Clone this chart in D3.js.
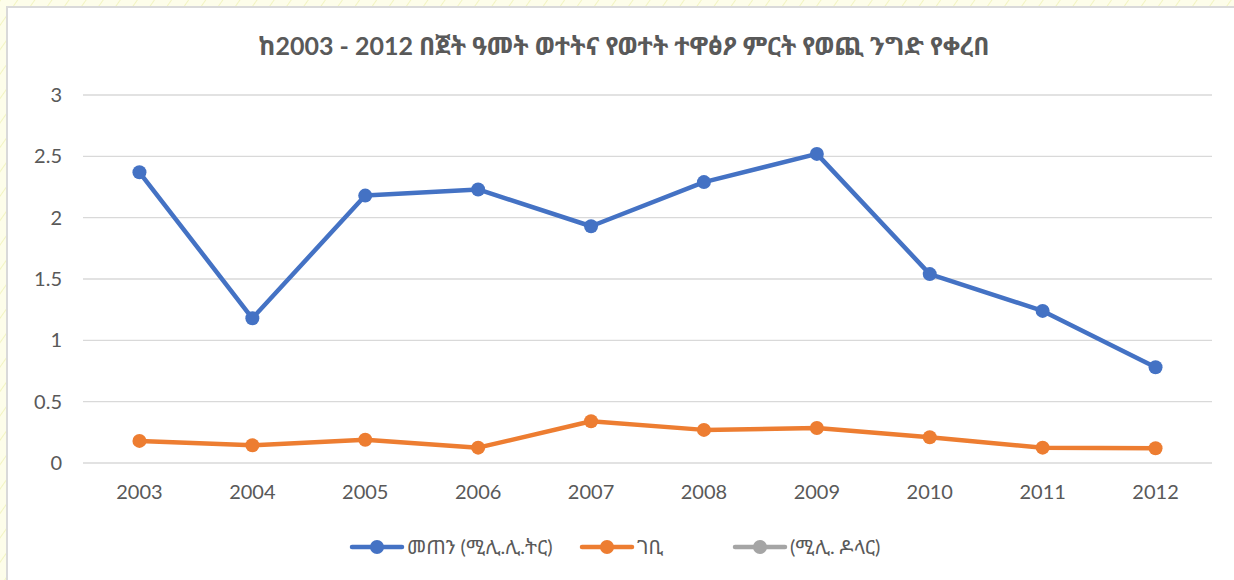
<!DOCTYPE html>
<html>
<head>
<meta charset="utf-8">
<script src="https://cdn.jsdelivr.net/npm/d3@7.9.0/dist/d3.min.js"></script>
<style>
  html, body { margin: 0; padding: 0; background: #fdfdea; }
  svg { display: block; }
  text { font-family: Lato, "Noto Sans Ethiopic", "Abyssinica SIL", "Noto Sans", sans-serif; }
</style>
</head>
<body>
<svg id="chart" width="1234" height="580"></svg>
<script>
// ── Data ───────────────────────────────────────────────────────────────────
const years = ['2003', '2004', '2005', '2006', '2007', '2008', '2009', '2010', '2011', '2012'];
const quantity = [2.37, 1.18, 2.18, 2.23, 1.93, 2.29, 2.52, 1.54, 1.24, 0.78];
const revenue = [0.18, 0.145, 0.19, 0.125, 0.34, 0.27, 0.285, 0.21, 0.125, 0.12];
const dollars = []; // third column has no plotted values
const yTicks = [0, 0.5, 1, 1.5, 2, 2.5, 3];
const seriesNames = ['መጠን (ሚሊ.ሊ.ትር)', 'ገቢ', '(ሚሊ. ዶላር)'];
const title = 'ከ2003 - 2012 በጀት ዓመት ወተትና የወተት ተዋፅዖ ምርት የወጪ ንግድ የቀረበ';

const colors = ['#4472c4', '#ed7d31', '#a5a5a5'];
const series = [quantity, revenue, dollars];

const svg = d3.select('#chart');

// ── Background hatch + chart frame ─────────────────────────────────────────
const defs = svg.append('defs');
const pat = defs.append('pattern')
  .attr('id', 'hatch')
  .attr('width', 14).attr('height', 14)
  .attr('patternUnits', 'userSpaceOnUse')
  .attr('patternTransform', 'rotate(35)');
pat.append('line')
  .attr('x1', 0).attr('y1', 0).attr('x2', 0).attr('y2', 14)
  .attr('stroke', '#e8ec9a').attr('stroke-width', 1);

svg.append('rect').attr('width', 1234).attr('height', 580).attr('fill', '#fdfdea');
svg.append('rect').attr('width', 1234).attr('height', 580).attr('fill', 'url(#hatch)');
svg.append('rect')
  .attr('x', 7).attr('y', 7)
  .attr('width', 1240).attr('height', 590)
  .attr('fill', '#ffffff')
  .attr('stroke', '#d9d9d9')
  .attr('stroke-width', 2);

// ── Scales ─────────────────────────────────────────────────────────────────
const plot = { left: 83, right: 1212, top: 95, bottom: 463 };

const x = d3.scaleBand().domain(years).range([plot.left, plot.right]);
const y = d3.scaleLinear().domain([0, 3]).range([plot.bottom, plot.top]);

// Gridlines
svg.append('g')
  .selectAll('line')
  .data(yTicks)
  .join('line')
  .attr('x1', plot.left).attr('x2', plot.right)
  .attr('y1', (d) => y(d)).attr('y2', (d) => y(d))
  .attr('stroke', '#d9d9d9')
  .attr('stroke-width', 1.3);

// Y axis labels
const yAxis = svg.append('g')
  .attr('transform', `translate(${plot.left - 21},0)`)
  .call(d3.axisLeft(y).tickValues(yTicks).tickSize(0).tickPadding(0).tickFormat(d3.format('~g')));
yAxis.select('.domain').remove();
yAxis.selectAll('text')
  .attr('fill', '#595959')
  .style('font-size', '20px');

// X axis labels
const xAxis = svg.append('g')
  .attr('transform', `translate(0,${plot.bottom + 21})`)
  .call(d3.axisBottom(x).tickSize(0).tickPadding(0));
xAxis.select('.domain').remove();
xAxis.selectAll('text')
  .attr('fill', '#595959')
  .attr('dy', '0.75em')
  .style('font-size', '20px');

// ── Lines and markers ──────────────────────────────────────────────────────
const line = d3.line()
  .x((d, i) => x(years[i]) + x.bandwidth() / 2)
  .y((d) => y(d));

series.forEach((vals, s) => {
  if (!vals.length) return;
  svg.append('path')
    .datum(vals)
    .attr('d', line)
    .attr('fill', 'none')
    .attr('stroke', colors[s])
    .attr('stroke-width', 4.5)
    .attr('stroke-linejoin', 'round')
    .attr('stroke-linecap', 'round');

  svg.append('g')
    .selectAll('circle')
    .data(vals)
    .join('circle')
    .attr('cx', (d, i) => x(years[i]) + x.bandwidth() / 2)
    .attr('cy', (d) => y(d))
    .attr('r', 7)
    .attr('fill', colors[s]);
});

// ── Title ──────────────────────────────────────────────────────────────────
svg.append('text')
  .attr('x', 624).attr('y', 55)
  .attr('text-anchor', 'middle')
  .attr('fill', '#595959')
  .style('font-size', '25px')
  .style('font-weight', 'bold')
  .text(title);

// ── Legend ─────────────────────────────────────────────────────────────────
const legendX = [352, 582, 735];
const legend = svg.append('g');
seriesNames.forEach((name, i) => {
  const g = legend.append('g').attr('transform', `translate(${legendX[i]},547)`);
  g.append('line')
    .attr('x1', 0).attr('x2', 50)
    .attr('stroke', colors[i])
    .attr('stroke-width', 4.5)
    .attr('stroke-linecap', 'round');
  g.append('circle').attr('cx', 25).attr('r', 7).attr('fill', colors[i]);
  g.append('text')
    .attr('x', 55).attr('dy', '0.35em')
    .attr('fill', '#595959')
    .style('font-size', '20px')
    .text(name);
});
</script>
</body>
</html>
